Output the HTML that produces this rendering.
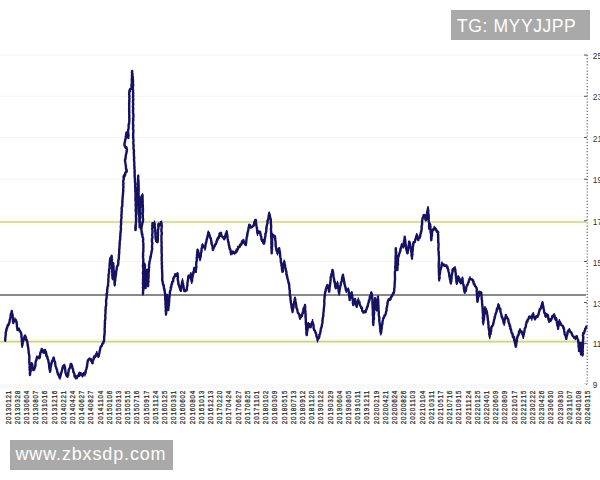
<!DOCTYPE html>
<html><head><meta charset="utf-8"><style>
html,body{margin:0;padding:0;background:#fff;}
body{width:600px;height:480px;overflow:hidden;position:relative;font-family:"Liberation Sans",sans-serif;}
svg{position:absolute;left:0;top:0;}
.box{position:absolute;background:#a9a9a9;color:#fff;white-space:nowrap;}
</style></head><body>
<svg width="600" height="480" viewBox="0 0 600 480">
<defs><linearGradient id="glow" x1="0" y1="0" x2="0" y2="1"><stop offset="0" stop-color="#fafce0" stop-opacity="0"/><stop offset="0.5" stop-color="#fafce0" stop-opacity="1"/><stop offset="1" stop-color="#fafce0" stop-opacity="0"/></linearGradient></defs>
<g><line x1="0" y1="55.0" x2="586" y2="55.0" stroke="#f3f3f3" stroke-width="1"/>
<line x1="0" y1="96.3" x2="586" y2="96.3" stroke="#f3f3f3" stroke-width="1"/>
<line x1="0" y1="137.5" x2="586" y2="137.5" stroke="#f3f3f3" stroke-width="1"/>
<line x1="0" y1="179.2" x2="586" y2="179.2" stroke="#f3f3f3" stroke-width="1"/>
<line x1="0" y1="261.5" x2="586" y2="261.5" stroke="#f3f3f3" stroke-width="1"/></g>
<rect x="0" y="216" width="586" height="11.5" fill="url(#glow)"/>
<line x1="0" y1="222" x2="586" y2="222" stroke="#d2cf9e" stroke-width="1.7"/>
<line x1="0" y1="295" x2="586" y2="295" stroke="#888" stroke-width="2"/>
<rect x="0" y="335.8" width="586" height="11.5" fill="url(#glow)"/>
<line x1="0" y1="341.6" x2="586" y2="341.6" stroke="#cdcf9f" stroke-width="1.7"/>
<line x1="587.2" y1="55" x2="587.2" y2="384" stroke="#555" stroke-width="1.1" stroke-dasharray="1.2,1.9"/>
<g><line x1="584" y1="55.0" x2="587" y2="55.0" stroke="#555" stroke-width="1"/>
<line x1="584" y1="96.3" x2="587" y2="96.3" stroke="#555" stroke-width="1"/>
<line x1="584" y1="137.5" x2="587" y2="137.5" stroke="#555" stroke-width="1"/>
<line x1="584" y1="179.2" x2="587" y2="179.2" stroke="#555" stroke-width="1"/>
<line x1="584" y1="220.8" x2="587" y2="220.8" stroke="#555" stroke-width="1"/>
<line x1="584" y1="261.5" x2="587" y2="261.5" stroke="#555" stroke-width="1"/>
<line x1="584" y1="302.5" x2="587" y2="302.5" stroke="#555" stroke-width="1"/>
<line x1="584" y1="343.3" x2="587" y2="343.3" stroke="#555" stroke-width="1"/>
<line x1="584" y1="384.3" x2="587" y2="384.3" stroke="#555" stroke-width="1"/></g>
<g font-family="Liberation Sans" font-size="8.4" fill="#333"><text x="592.8" y="59.0">25</text>
<text x="592.8" y="100.3">23</text>
<text x="592.8" y="141.5">21</text>
<text x="592.8" y="183.2">19</text>
<text x="592.8" y="224.8">17</text>
<text x="592.8" y="265.5">15</text>
<text x="592.8" y="306.5">13</text>
<text x="592.8" y="347.3">11</text>
<text x="592.8" y="388.3">9</text></g>
<path d="M5.3 339.3V342.0M6.0 329.3V332.9M7.8 323.7V326.5M9.6 321.2V323.0M10.7 314.7V318.4M11.8 310.8V311.8M12.8 316.5V318.8M13.3 321.2V323.1M15.0 317.4V322.5M16.7 321.3V324.6M19.0 327.6V329.2M20.8 332.0V333.1M21.7 337.9V339.2M22.2 344.7V348.0M23.3 338.7V341.7M25.0 334.5V337.5M26.7 338.8V340.7M27.5 340.7V345.9M29.2 352.8V356.8M30.0 374.2V375.6M31.7 362.5V363.5M33.3 368.0V371.0M35.0 364.8V368.0M36.7 355.5V360.2M39.2 355.6V359.2M40.5 351.0V354.5M41.7 348.8V350.6M43.3 350.5V353.2M45.0 349.8V350.9M46.7 353.3V357.8M48.3 359.7V360.6M51.7 360.4V363.0M52.7 358.5V361.2M53.7 357.0V359.4M54.8 361.8V363.8M55.8 366.4V367.8M57.5 371.9V373.2M58.8 372.5V377.1M60.0 376.7V379.8M61.2 372.0V373.5M62.5 365.3V369.2M64.2 364.7V367.6M65.8 372.7V374.0M67.5 374.7V377.6M69.2 368.2V369.2M70.2 366.3V368.0M71.3 363.4V365.6M72.3 366.9V369.0M73.3 369.2V373.0M74.5 373.5V377.3M75.8 377.8V378.7M77.0 374.7V379.2M78.3 375.2V376.3M79.5 372.6V377.0M80.8 372.8V375.8M82.5 373.5V377.4M83.8 373.8V375.2M85.0 373.9V376.5M86.7 366.9V369.3M88.3 359.3V362.1M89.5 357.9V360.3M90.8 358.5V360.9M92.5 363.1V363.9M94.2 355.2V358.9M95.5 353.4V355.7M96.7 350.9V353.8M98.3 356.7V357.4M100.0 348.8V350.2M101.7 345.3V346.8M103.3 341.8V343.6M104.2 338.1V341.3M105.0 320.8V325.0M105.5 308.2V311.5M108.3 281.7V284.1M110.0 258.2V262.5M111.7 255.7V257.5M112.5 277.0V280.2M113.3 262.5V265.9M114.7 284.8V286.4M115.8 273.1V277.3M116.7 266.4V270.1M118.3 261.2V265.7M119.2 250.8V253.5M120.0 237.7V242.3M120.8 228.9V232.1M121.7 207.8V211.5M123.0 193.4V196.0M123.7 174.5V177.6M124.7 174.3V176.2M125.7 170.5V175.4M126.7 169.7V172.6M125.0 158.1V161.5M126.0 153.9V157.2M127.0 149.8V152.0M125.8 147.4V149.1M124.5 143.7V145.6M126.4 131.2V134.3M127.4 133.9V137.9M128.4 137.3V138.0M128.2 129.2V131.8M129.3 120.5V121.4M129.3 89.6V93.7M130.4 88.9V92.3M131.5 87.1V89.7M132.2 70.5V72.1M133.0 77.9V82.4M133.2 97.7V101.0M133.2 136.5V138.8M134.0 153.6V155.3M134.7 173.8V178.2M135.2 184.2V188.5M136.0 214.3V215.4M135.5 228.8V230.7M137.0 199.4V201.1M138.3 174.4V177.3M139.0 209.2V212.2M139.6 224.4V228.2M141.5 195.2V197.6M142.5 193.2V196.5M143.0 220.2V223.1M141.0 227.8V229.1M142.1 232.3V235.1M143.2 253.4V256.2M143.0 292.1V295.4M144.7 262.5V267.1M145.5 286.2V288.5M147.0 268.8V270.5M148.0 286.0V287.2M149.1 262.7V265.1M150.6 256.6V258.2M152.0 248.2V251.4M152.5 221.9V225.5M153.5 222.2V225.3M154.5 220.6V223.2M156.0 237.6V241.9M157.5 241.7V243.2M158.5 222.4V226.4M159.5 222.7V225.1M160.5 221.0V225.4M161.5 220.5V224.2M161.7 248.3V250.5M162.2 277.1V281.1M163.2 282.2V285.8M164.2 288.2V291.1M165.2 291.2V296.2M165.9 312.6V316.1M167.0 294.2V297.4M168.3 307.8V310.9M170.0 291.5V292.8M171.2 285.3V288.7M172.5 280.4V281.8M173.8 276.2V278.5M175.0 272.9V275.4M176.2 273.3V276.2M177.5 272.9V273.7M178.3 282.0V285.2M179.6 284.9V288.8M180.8 288.3V292.1M182.5 278.3V281.0M184.2 290.2V292.2M185.4 289.6V292.3M186.7 288.3V291.4M188.3 274.5V278.2M189.6 274.6V276.4M190.8 272.0V276.5M191.7 281.2V283.9M192.9 272.5V276.4M194.2 266.8V268.8M195.8 270.3V273.0M197.5 248.4V250.1M198.8 252.1V255.9M200.0 258.2V261.3M201.2 250.6V253.4M202.5 243.2V245.2M203.8 245.2V247.7M205.0 245.8V250.7M206.1 242.3V244.3M207.2 237.4V238.9M208.3 230.4V234.8M209.6 234.2V236.2M210.8 237.8V239.9M211.9 241.7V244.5M213.0 248.0V250.1M214.4 246.6V247.7M215.8 242.4V245.0M216.9 240.6V243.1M217.9 238.5V240.7M218.9 235.7V237.4M220.0 232.6V233.8M221.2 233.6V236.1M222.5 235.7V237.8M224.2 237.8V239.6M225.4 234.9V237.1M226.7 230.0V233.1M228.3 239.5V243.3M229.6 245.3V248.1M230.8 251.4V255.4M232.1 250.2V253.3M233.3 250.9V254.1M234.6 251.5V254.7M235.8 250.2V252.8M237.1 249.0V251.5M238.3 246.0V247.0M239.6 243.7V246.9M240.8 242.9V245.3M242.1 241.5V244.3M244.6 240.7V244.9M245.8 242.5V245.3M247.5 232.0V235.3M249.2 223.7V226.8M250.8 227.0V227.7M253.3 224.4V227.1M254.6 221.4V223.3M255.8 219.5V220.5M257.5 231.1V235.9M258.8 230.1V232.7M260.0 231.5V234.2M261.7 238.8V242.0M262.9 240.8V242.9M264.2 242.0V244.4M265.4 233.4V235.0M266.7 224.9V228.9M267.9 219.5V221.2M269.2 211.4V214.4M270.8 219.5V220.4M271.7 252.0V253.3M272.5 232.7V237.1M273.8 234.0V238.1M275.0 235.1V237.8M275.8 245.1V248.0M277.5 250.7V255.4M279.2 247.6V250.7M280.8 258.1V262.0M282.5 269.6V272.8M284.2 259.4V264.0M285.8 268.2V272.0M287.5 276.3V279.4M289.2 283.1V285.2M290.0 294.1V296.2M290.8 301.7V302.6M292.5 310.0V313.3M293.8 304.4V307.5M295.0 296.6V299.2M296.7 306.6V309.8M298.3 311.9V314.3M300.0 315.7V320.0M301.2 314.0V317.8M302.5 310.8V313.4M303.8 307.5V311.1M305.0 304.3V306.0M305.8 319.9V320.5M306.7 334.0V335.3M308.3 322.6V325.7M309.6 323.6V326.3M310.8 324.2V328.2M312.5 319.1V323.4M314.2 327.9V330.2M315.8 331.7V335.3M317.5 339.9V342.4M318.8 336.6V338.2M320.0 333.6V335.3M321.2 326.4V328.2M322.5 319.5V323.1M324.0 306.6V309.6M325.0 291.0V292.7M326.2 286.8V290.0M327.5 284.3V286.9M329.2 290.9V291.7M330.8 276.1V276.8M332.5 269.6V272.0M334.2 279.0V282.3M335.8 286.4V288.4M337.5 280.7V285.8M339.2 293.1V295.7M340.8 283.1V285.4M341.9 277.1V280.2M343.0 273.6V277.4M344.7 282.3V285.4M346.3 288.3V292.9M347.3 288.4V290.3M348.3 287.6V290.4M349.7 299.5V300.1M350.7 294.9V296.6M351.7 291.3V294.2M353.3 303.8V305.7M355.0 297.7V300.3M356.7 304.7V308.1M358.3 297.4V302.5M359.6 301.4V304.0M360.8 306.4V309.0M362.1 307.6V311.2M363.3 311.6V313.2M364.6 310.3V313.6M365.8 310.2V313.3M367.1 305.5V308.0M368.3 302.7V305.8M369.6 296.8V301.4M371.3 291.8V293.6M372.5 298.4V300.3M373.3 323.6V325.2M375.0 298.1V300.1M376.7 308.6V311.6M378.0 295.7V297.9M379.2 319.5V320.9M380.8 331.4V335.5M384.2 314.6V318.3M385.8 311.3V313.9M387.5 302.2V304.0M389.2 297.9V301.0M390.8 295.8V300.1M392.5 294.2V296.4M394.2 289.8V294.1M395.0 275.6V277.7M395.8 248.0V250.6M398.3 255.2V258.0M400.0 249.9V252.5M401.7 243.0V245.2M403.3 246.1V248.4M404.7 236.5V237.5M405.8 244.8V248.5M407.5 252.6V253.7M409.2 240.8V243.6M410.8 247.3V248.6M412.0 256.5V259.8M413.3 240.9V245.7M415.0 239.3V242.8M416.7 232.9V235.8M418.3 239.2V241.0M420.0 234.3V239.0M421.7 227.7V229.2M422.5 217.3V219.2M424.2 214.0V216.0M425.8 219.5V221.5M426.9 212.1V215.6M428.0 206.1V209.8M429.2 227.8V230.3M430.3 222.7V225.7M431.3 239.9V241.3M432.5 228.6V231.5M434.2 225.8V230.0M436.0 227.9V230.2M437.0 229.4V232.9M438.7 253.1V257.3M439.2 279.8V281.6M440.3 269.6V271.9M442.0 261.6V263.9M443.1 263.6V266.1M444.2 263.6V267.0M445.4 264.8V266.7M446.7 264.2V268.4M448.3 268.7V271.4M449.6 274.8V278.5M450.8 280.9V284.4M452.5 267.9V271.7M453.8 266.9V271.2M455.0 266.1V270.6M456.7 280.8V285.0M458.3 275.3V278.5M459.6 277.9V281.1M460.8 282.2V283.7M462.5 276.4V280.9M463.6 284.4V285.8M464.7 292.0V293.6M466.1 288.0V291.3M467.5 284.8V285.8M468.8 281.4V283.3M470.0 276.3V278.8M471.2 279.0V280.3M472.5 278.5V282.4M475.0 285.5V286.6M476.7 287.7V290.2M477.5 300.2V302.3M479.2 291.2V292.4M480.2 291.7V294.1M481.3 291.7V293.9M482.5 304.6V307.9M483.3 322.6V325.6M485.0 305.9V309.2M486.7 310.3V314.2M488.3 322.0V323.9M489.7 336.6V339.2M490.7 329.6V332.7M491.7 325.3V328.0M493.3 322.6V325.9M494.6 316.6V318.9M495.8 313.3V314.5M497.1 308.2V311.2M498.3 303.1V306.6M500.0 307.9V308.7M501.7 315.9V317.4M502.9 317.7V321.3M504.2 321.6V325.9M505.8 314.3V316.4M507.5 317.9V320.3M509.2 323.3V325.4M510.4 326.1V330.4M511.7 333.1V334.0M512.7 333.1V335.3M513.7 335.5V337.9M514.8 339.2V343.2M515.8 344.5V347.5M517.5 334.6V337.8M518.8 331.0V333.6M520.0 327.9V330.5M521.7 330.3V333.1M523.3 336.3V338.9M525.0 327.5V329.1M526.2 324.0V324.9M527.5 318.8V321.9M529.2 315.8V318.5M530.5 317.2V318.5M531.7 317.1V320.8M533.3 312.0V315.9M535.0 319.2V320.2M536.2 316.1V318.6M537.5 315.2V317.9M539.2 311.7V314.3M540.8 306.2V308.8M542.5 300.9V303.3M544.2 310.7V313.1M545.8 315.9V317.6M547.5 314.0V316.7M549.2 321.0V322.2M550.5 318.1V320.9M551.7 315.8V319.8M553.0 314.8V317.5M554.2 312.9V315.2M555.8 319.6V320.2M556.3 317.0V320.6M558.1 328.3V329.8M559.4 319.1V322.8M561.3 324.8V325.6M563.1 325.9V326.6M564.4 330.8V332.1M566.3 336.4V339.9M567.5 331.2V334.2M569.4 328.0V332.1M571.3 331.5V333.4M572.5 333.6V334.7M573.8 335.9V338.7M575.3 335.5V340.2M576.9 334.9V338.2M578.1 340.0V340.9M578.5 342.1V344.7M579.0 350.7V352.0M580.0 341.7V345.1M581.0 351.9V355.6M582.0 342.6V345.0M582.5 352.7V356.4M583.0 340.1V342.3M583.1 332.7V335.0M584.7 328.0V331.9" stroke="#161262" stroke-width="1.3" fill="none"/>
<polyline points="5.3,340.5 5.2,339.0 5.3,338.2 5.5,336.8 5.7,334.8 5.8,333.5 5.7,332.3 6.0,331.7 6.5,330.2 6.6,328.2 7.2,328.0 7.4,326.5 7.8,325.0 8.3,325.5 8.9,324.0 9.6,321.7 9.7,319.8 10.2,318.9 10.4,317.5 10.5,317.2 10.6,315.9 10.9,313.7 11.3,313.7 11.6,311.8 11.8,311.0 12.0,312.3 12.4,314.4 12.6,314.8 12.8,316.7 13.1,318.0 12.9,319.6 12.9,321.2 13.3,321.6 13.3,323.0 14.1,320.3 15.0,320.0 15.9,320.0 16.7,323.0 16.9,324.8 16.9,326.4 17.2,327.5 17.3,328.7 17.5,330.0 19.0,329.0 19.7,331.2 20.2,331.3 20.8,332.5 21.1,333.1 21.5,335.5 21.4,337.2 21.7,338.0 21.9,339.1 21.8,339.9 21.8,341.4 22.2,342.6 22.0,344.0 22.2,345.8 22.6,344.1 22.7,342.1 23.2,341.5 23.3,340.0 24.0,339.5 24.4,336.6 25.0,335.8 25.7,336.8 26.0,339.9 26.7,340.0 27.0,340.9 27.5,343.3 27.7,344.1 27.8,346.1 28.0,346.3 28.3,348.3 28.5,350.6 28.7,351.1 28.6,352.7 29.1,354.4 29.2,355.0 29.4,356.7 29.3,357.4 29.4,358.2 29.2,359.4 29.3,360.9 29.3,362.3 29.4,363.1 29.5,364.5 29.8,365.6 29.5,367.6 29.7,368.4 29.6,369.8 30.1,371.7 29.9,372.5 29.8,373.2 30.0,375.0 30.1,373.4 30.2,373.0 30.8,370.3 30.6,369.8 30.7,368.6 31.3,367.2 31.4,366.5 31.5,364.2 31.7,363.3 32.1,363.9 32.4,366.1 32.6,367.0 33.2,369.3 33.3,370.0 34.2,369.7 35.0,367.0 35.3,366.3 35.5,363.9 35.5,362.9 35.9,360.9 36.3,360.1 36.4,360.2 36.7,358.0 38.3,356.7 39.2,358.0 39.7,357.7 39.9,356.5 40.2,353.5 40.5,352.2 41.1,351.9 41.3,351.1 41.7,349.0 42.3,350.6 42.8,350.1 43.3,352.5 44.2,352.7 45.0,350.0 45.3,351.8 45.8,351.6 46.1,353.1 46.3,355.8 46.7,355.8 47.4,356.9 47.7,359.2 48.3,360.0 48.3,360.6 48.8,363.3 49.0,363.3 49.1,366.0 49.3,366.2 49.2,367.1 49.7,369.9 50.0,370.4 50.0,371.7 50.4,370.3 50.4,369.7 50.6,367.3 51.0,365.9 51.2,364.7 51.6,363.1 51.7,362.5 52.2,360.8 52.8,360.2 53.3,358.5 53.7,357.5 54.0,358.8 54.1,360.2 54.5,361.3 55.0,361.7 55.2,363.4 55.5,365.9 55.8,366.7 56.1,367.4 56.6,369.2 56.8,369.2 57.1,370.7 57.5,372.5 58.1,374.6 58.8,375.2 59.4,377.5 60.0,377.5 60.3,376.5 60.7,375.0 61.0,373.6 61.4,372.5 61.7,371.7 61.8,371.0 62.4,368.9 62.5,367.5 63.3,367.5 64.2,365.0 64.4,365.4 64.6,366.5 65.0,367.7 65.3,370.3 65.4,370.2 65.4,372.4 65.8,373.3 66.5,375.6 67.1,374.7 67.5,376.7 67.8,375.2 68.2,375.2 68.3,372.1 68.6,371.6 68.8,369.6 69.2,369.0 69.6,368.4 70.2,366.7 70.7,363.9 71.3,364.0 71.6,365.6 72.1,365.6 72.5,368.5 72.5,368.2 73.1,369.4 73.3,371.7 73.7,372.4 74.4,374.1 74.7,376.5 75.4,376.0 75.8,378.3 77.1,377.4 78.3,375.8 79.5,372.8 80.8,373.3 81.6,375.2 82.5,375.8 83.8,372.9 85.0,374.0 85.5,373.0 85.8,370.5 86.2,369.1 86.3,368.7 86.7,367.5 87.1,366.4 87.1,364.5 87.4,363.8 87.6,361.7 87.9,360.3 88.3,360.0 89.5,358.5 90.8,359.0 91.3,361.2 91.8,361.9 92.5,363.3 92.7,361.6 93.0,360.1 93.5,359.9 93.9,357.3 94.2,356.7 95.0,357.2 95.9,355.6 96.7,353.3 97.3,354.4 97.8,355.2 98.3,356.7 98.8,355.8 99.1,353.7 99.4,353.1 99.6,351.1 100.0,350.0 100.5,347.4 101.2,346.0 101.7,345.8 102.4,343.7 103.3,343.3 103.7,341.0 104.0,341.2 104.2,339.0 104.1,337.5 104.3,336.3 104.4,334.9 104.7,333.9 104.5,333.6 104.8,331.4 104.6,330.3 104.6,328.7 104.8,328.1 104.8,326.5 104.8,325.0 104.9,324.0 105.0,323.3 104.8,321.5 105.0,320.6 105.2,319.8 105.3,318.8 105.4,317.5 105.2,315.9 105.1,315.5 105.4,313.9 105.6,311.8 105.5,311.7 105.5,310.0 105.7,309.1 105.7,307.0 106.0,306.3 106.1,305.5 106.2,303.9 106.2,302.8 106.0,300.9 106.2,299.5 106.6,298.2 106.6,297.6 106.7,296.4 106.7,295.0 106.6,293.8 107.1,293.1 107.2,291.4 107.1,290.4 107.3,289.3 107.5,287.0 107.6,286.9 108.1,285.7 108.0,284.1 108.2,282.9 108.3,281.7 108.4,280.9 108.3,279.5 108.5,277.6 108.6,277.2 108.5,275.8 108.8,273.8 109.0,273.5 109.0,272.3 109.1,270.9 109.1,269.6 109.2,269.0 109.6,267.9 109.5,265.3 109.8,265.3 109.6,263.5 110.0,262.0 109.9,260.8 110.0,260.0 110.6,257.6 111.0,258.5 111.7,255.8 111.7,257.5 111.9,258.8 112.0,259.2 111.6,260.8 111.9,261.4 111.9,263.2 111.9,264.1 112.2,265.6 112.2,266.4 112.0,268.7 112.3,270.1 112.1,271.3 112.2,271.9 112.4,273.9 112.3,274.4 112.2,275.5 112.6,276.5 112.5,278.3 112.8,276.8 112.5,275.5 112.6,274.6 113.0,273.1 113.0,272.6 113.1,271.0 113.0,270.1 112.8,268.6 113.1,267.4 113.2,266.1 113.0,264.3 113.3,263.3 113.2,265.1 113.4,265.7 113.6,266.6 113.5,268.8 113.6,269.5 113.7,270.6 113.7,271.3 114.1,272.5 113.9,274.1 114.3,275.9 114.0,276.5 114.0,277.3 114.1,278.7 114.3,279.8 114.6,281.5 114.5,282.9 114.6,283.7 114.7,285.0 114.8,283.6 114.9,281.8 114.9,282.0 115.3,280.0 115.3,279.3 115.4,277.1 115.6,276.1 115.8,275.0 116.1,274.4 116.0,273.0 116.4,270.2 116.5,270.3 116.7,268.3 116.9,267.3 117.6,265.5 118.0,265.4 118.3,263.3 118.3,262.7 118.3,260.1 118.7,259.5 118.8,258.8 118.9,257.1 118.9,255.5 119.1,253.6 119.3,252.6 119.2,251.7 119.2,250.6 119.3,248.6 119.6,248.0 119.4,245.9 119.7,245.2 119.6,243.7 119.6,242.7 119.9,241.0 120.0,240.0 120.2,239.4 120.2,238.1 120.2,235.9 120.5,235.7 120.3,233.5 120.7,232.5 120.6,231.1 120.8,230.0 121.1,229.0 120.7,227.1 120.9,226.0 120.9,225.2 121.2,224.1 121.0,222.5 121.1,221.9 121.1,220.4 121.4,218.4 121.6,217.2 121.3,216.2 121.4,214.6 121.7,214.0 121.5,212.0 121.9,210.9 121.7,210.0 121.6,208.2 121.9,206.8 122.2,206.8 122.4,205.4 122.2,204.4 122.5,202.0 122.2,201.6 122.5,200.2 122.6,198.6 122.6,197.0 122.8,195.9 123.0,195.0 122.9,194.3 123.0,193.1 123.3,191.0 123.2,190.3 123.2,188.1 123.5,187.2 123.3,185.7 123.1,185.4 123.6,183.5 123.2,182.7 123.3,180.5 123.4,180.3 123.8,178.9 123.5,177.1 123.7,176.0 124.5,176.6 125.2,172.9 125.9,172.0 126.7,171.6 126.6,169.4 126.4,169.8 125.9,168.5 125.9,166.0 125.9,166.0 125.5,163.7 125.4,162.5 125.1,162.0 125.0,160.0 125.3,159.4 125.6,158.1 125.7,156.5 125.9,154.6 126.1,154.3 126.6,151.9 126.6,150.7 127.0,150.0 126.4,147.3 125.9,147.0 125.3,147.4 124.5,145.0 124.5,143.4 124.9,141.9 125.0,141.8 125.2,139.7 125.5,139.2 125.8,138.3 125.7,136.9 125.9,136.0 126.2,134.3 126.4,133.0 126.8,134.9 127.3,134.8 128.0,135.8 128.4,138.0 128.3,136.8 128.6,135.2 128.2,134.0 128.3,133.0 128.0,131.9 128.2,130.0 128.5,128.7 128.7,128.0 128.6,125.4 128.7,124.2 129.0,124.4 129.1,123.0 129.3,121.0 129.3,120.2 129.4,118.3 129.1,117.9 129.4,116.3 129.2,114.6 129.2,113.3 129.3,112.3 129.2,111.5 129.2,109.6 129.1,109.1 129.2,107.5 129.3,106.8 129.1,104.8 129.3,104.0 129.1,103.0 129.4,101.3 129.2,100.4 129.5,99.0 129.3,97.8 129.3,96.7 129.5,96.0 129.1,94.3 129.2,93.5 129.3,92.0 130.1,89.0 130.8,89.1 131.5,88.0 131.7,86.7 131.4,85.5 131.7,83.7 131.9,83.3 131.8,81.4 131.8,80.5 131.7,79.0 132.1,78.3 131.9,76.6 132.2,76.3 131.9,74.2 132.3,74.0 131.9,72.2 132.2,71.0 132.3,72.9 132.5,74.2 132.4,75.3 132.5,76.6 132.9,77.3 132.7,79.2 133.0,80.0 133.0,80.9 133.0,82.5 132.9,83.3 133.2,85.3 133.1,85.7 132.8,87.8 132.9,89.1 133.1,90.1 133.0,91.4 133.2,92.4 133.2,93.7 133.1,94.9 133.2,95.7 133.0,97.5 133.3,99.1 133.2,100.0 133.0,101.2 133.0,102.4 133.2,103.3 133.2,104.4 133.0,106.1 133.0,107.5 133.3,108.8 133.0,109.8 133.1,111.0 133.0,112.8 133.4,113.9 133.4,115.0 133.4,115.6 133.4,117.2 133.0,118.9 133.4,119.9 133.1,120.4 133.0,122.4 133.1,123.7 133.0,124.9 133.4,125.7 133.1,126.6 133.1,128.2 133.0,128.9 133.4,130.3 133.4,132.1 133.3,132.7 133.2,133.9 133.1,135.7 133.2,137.2 133.2,138.0 133.4,139.3 133.6,139.9 133.3,141.9 133.3,143.3 133.5,144.8 133.7,145.2 133.5,146.5 133.5,148.2 133.6,149.5 134.0,150.5 134.0,151.7 133.7,152.5 134.0,154.0 133.9,154.6 134.0,156.6 134.3,157.7 134.0,158.4 134.0,160.3 134.2,160.7 134.2,162.1 134.4,163.4 134.2,165.1 134.4,166.4 134.6,167.0 134.3,168.3 134.6,169.4 134.7,171.6 134.5,172.2 134.7,172.9 134.6,174.9 134.7,176.0 134.7,177.4 134.9,179.1 135.1,179.4 135.0,180.4 134.9,182.1 135.2,182.9 135.2,184.1 135.2,186.0 135.1,187.8 135.3,188.0 135.4,189.6 135.2,191.2 135.3,191.8 135.6,192.7 135.5,194.8 135.6,195.1 135.5,197.2 135.5,198.4 135.4,199.0 135.4,200.2 135.8,201.5 135.8,203.2 135.6,204.4 135.7,205.4 135.8,206.9 135.9,207.5 135.7,209.5 135.6,210.6 135.8,211.1 136.1,212.9 135.9,214.1 136.0,215.0 135.9,216.7 136.1,217.2 136.0,218.9 136.1,220.2 136.0,221.2 135.9,222.8 135.8,223.7 135.6,225.1 135.7,225.9 135.8,227.0 135.3,228.3 135.5,230.0 135.8,228.3 135.4,227.4 135.5,225.8 135.8,225.5 135.9,224.3 135.9,222.2 136.1,221.4 136.2,220.8 136.2,218.6 136.3,218.6 136.0,216.3 136.0,215.1 136.4,214.9 136.5,213.4 136.3,212.2 136.3,210.3 136.4,209.9 136.5,208.2 136.5,206.6 136.8,205.7 136.7,204.6 136.8,204.2 136.9,202.9 136.9,200.6 137.0,200.0 137.2,198.7 137.2,197.4 137.1,196.5 137.1,195.7 137.2,194.4 137.2,192.1 137.7,192.0 137.5,189.7 137.7,189.2 137.6,187.6 137.9,186.6 138.0,185.3 137.7,184.1 137.9,183.5 138.0,181.5 138.2,180.2 138.2,179.9 138.1,178.6 138.2,177.1 138.3,176.0 138.1,177.7 138.1,178.9 138.3,179.3 138.4,181.3 138.6,181.9 138.4,183.0 138.6,184.5 138.6,186.0 138.4,186.7 138.7,187.7 138.7,189.6 138.6,190.2 138.7,192.1 138.6,192.5 138.5,194.7 138.6,195.1 138.9,196.9 138.6,197.4 138.7,198.8 138.6,200.3 138.7,201.3 139.0,203.3 139.1,203.4 138.8,204.7 139.1,206.9 138.9,207.9 139.0,208.4 139.0,210.0 138.9,210.7 138.9,212.3 139.3,213.5 139.2,215.1 139.2,216.2 139.3,216.8 139.4,218.4 139.3,220.2 139.5,221.0 139.3,222.0 139.7,223.6 139.6,224.9 139.6,226.2 139.6,227.0 139.6,226.0 139.7,224.3 139.7,222.8 139.9,222.4 139.7,221.0 139.8,219.5 139.8,218.6 140.1,217.4 140.0,215.6 140.0,215.1 140.3,213.5 140.1,211.7 140.3,210.6 140.2,210.4 140.2,208.1 140.4,207.4 140.4,206.2 140.3,205.3 140.6,203.6 140.5,202.1 140.6,201.1 140.5,200.0 141.2,197.7 141.4,197.1 142.0,195.6 142.5,195.0 142.5,195.7 142.6,197.4 142.5,198.5 142.7,199.6 142.6,201.7 142.8,202.1 142.5,203.5 142.8,204.5 142.8,206.5 142.8,207.3 143.0,208.3 142.9,209.7 143.0,211.5 142.7,212.3 142.7,213.6 142.8,215.2 142.8,216.5 142.8,217.1 142.8,218.4 143.1,219.2 143.0,221.0 142.6,221.9 142.3,223.2 142.1,224.8 141.6,226.7 141.5,228.6 141.0,229.0 141.4,229.3 141.6,232.3 141.9,231.9 141.8,234.2 142.4,234.1 142.4,236.6 142.6,236.8 143.1,238.2 143.2,240.0 143.0,241.1 143.3,243.0 143.4,243.4 143.3,245.1 143.4,246.4 143.4,247.8 143.3,248.4 143.3,250.0 143.4,251.2 143.1,252.6 143.0,253.5 143.2,255.0 143.0,256.2 143.0,257.4 143.2,258.6 143.4,259.9 143.3,260.5 143.2,262.2 143.3,263.7 143.1,264.5 142.9,266.4 143.2,267.3 143.2,267.8 143.3,269.7 143.4,270.5 143.1,271.9 142.9,273.6 143.2,274.6 143.3,275.4 143.1,276.6 143.2,278.0 143.0,278.9 143.1,280.3 143.0,282.0 143.0,283.2 142.9,284.0 143.3,285.2 143.2,286.6 142.9,287.5 143.1,288.6 143.2,290.2 143.1,290.8 143.0,292.9 143.0,293.7 143.0,291.9 143.0,290.6 143.3,290.6 143.4,289.1 143.4,288.2 143.5,286.6 143.5,285.5 143.4,284.2 143.6,283.0 143.5,281.9 143.6,279.9 144.0,279.5 143.9,278.2 144.1,277.2 143.9,275.6 144.1,274.0 144.2,272.8 144.5,272.1 144.4,270.0 144.2,268.8 144.5,268.7 144.5,267.6 144.6,265.1 144.7,264.6 145.0,265.9 144.8,267.7 144.6,268.2 144.7,269.7 144.7,270.3 145.0,271.4 145.2,272.7 145.2,273.9 144.8,275.2 145.0,277.2 145.0,278.4 145.3,278.8 145.4,280.9 145.1,282.1 145.4,283.2 145.6,284.3 145.6,285.2 145.2,287.0 145.5,288.0 145.7,286.1 145.5,286.1 145.9,284.1 146.1,282.7 145.8,282.0 146.1,280.6 146.3,279.5 146.4,277.9 146.5,277.0 146.5,276.2 146.7,274.6 146.8,274.3 146.7,272.5 147.1,270.5 147.0,270.0 147.2,271.5 147.2,272.2 147.4,274.4 147.2,275.1 147.6,276.1 147.5,277.2 147.7,278.8 147.5,280.3 147.6,280.4 147.8,282.2 148.0,284.0 148.1,284.1 148.0,286.0 148.2,285.2 148.0,283.6 148.3,282.7 148.5,281.2 148.1,279.5 148.5,278.5 148.6,276.8 148.4,276.5 148.7,274.8 148.5,273.4 148.8,271.8 148.8,271.3 149.0,269.1 148.8,268.7 149.2,267.2 149.0,266.4 149.1,264.6 149.4,263.3 149.5,261.5 149.9,260.3 150.1,259.5 150.3,258.3 150.4,256.6 150.7,257.1 151.1,254.1 151.1,254.2 151.5,252.6 151.6,251.3 152.0,250.0 152.3,248.2 152.0,248.0 152.0,246.5 152.1,245.5 152.2,244.5 152.4,243.2 151.9,241.3 152.0,240.0 152.0,238.7 152.4,238.0 152.5,236.7 152.1,236.0 152.2,234.5 152.5,232.7 152.4,231.6 152.6,230.9 152.3,229.7 152.2,228.3 152.7,227.7 152.2,225.6 152.4,224.4 152.5,223.5 154.5,223.0 154.8,224.8 154.5,225.9 154.9,227.1 155.1,228.1 154.9,228.4 155.3,230.7 155.2,231.8 155.5,232.9 155.4,233.3 155.4,234.8 155.5,236.3 155.6,237.2 155.7,239.1 156.0,240.0 156.7,241.8 157.5,242.0 157.8,240.2 157.8,239.2 157.9,238.9 157.7,236.7 158.0,235.4 158.0,235.3 157.9,233.5 158.0,232.8 157.9,231.4 158.0,229.6 158.3,229.1 158.5,227.1 158.3,226.1 158.3,224.7 158.5,224.0 160.0,225.3 161.5,223.0 161.5,223.8 161.7,225.2 161.8,226.2 161.7,227.4 161.4,229.3 161.4,230.3 161.4,231.3 161.8,232.7 161.8,234.6 161.5,234.8 161.4,237.0 161.5,238.0 161.4,239.5 161.5,240.5 161.4,241.0 161.7,243.0 161.6,243.5 161.5,245.6 161.5,246.4 161.8,247.2 161.5,249.0 161.7,250.0 161.5,250.7 161.7,252.5 161.6,253.4 161.9,255.0 161.8,256.4 161.6,256.9 161.8,258.7 161.6,259.9 161.8,261.2 162.1,262.5 161.7,263.3 161.9,265.0 161.9,266.2 162.2,266.5 161.8,268.0 162.1,269.2 162.1,269.9 162.1,271.7 162.2,272.5 162.3,274.5 162.2,275.2 162.3,276.4 162.4,277.3 162.2,279.0 162.4,281.1 162.7,281.5 162.8,282.8 163.1,284.8 163.3,284.5 163.8,285.8 163.8,286.6 164.1,289.2 164.5,289.1 164.7,291.4 164.8,292.9 165.2,293.7 165.3,295.4 165.1,295.7 165.3,297.5 165.2,298.5 165.2,299.9 165.6,301.4 165.5,302.1 165.4,304.2 165.8,305.5 165.6,306.2 165.7,308.1 165.9,308.8 165.7,310.5 165.7,311.1 166.1,312.6 165.9,314.0 166.2,313.2 166.2,311.9 166.1,309.6 166.4,309.6 166.2,307.3 166.3,306.6 166.2,305.2 166.5,303.8 166.4,301.9 166.8,302.0 166.8,300.7 167.0,299.2 166.6,298.1 166.8,296.5 167.0,295.0 167.0,296.5 167.4,297.6 167.2,298.9 167.4,300.0 167.4,301.9 167.7,302.2 167.8,303.2 167.9,305.7 168.0,305.9 167.9,307.6 168.0,308.2 168.3,310.0 168.4,308.5 168.4,307.2 168.7,305.7 168.8,305.6 168.9,304.0 169.1,302.2 169.1,301.4 169.2,300.4 169.2,298.7 169.4,297.4 169.6,296.4 169.6,294.6 169.7,294.7 169.9,293.0 170.0,291.7 170.5,290.0 170.7,288.7 170.8,287.2 171.2,287.5 171.5,284.5 172.0,284.1 172.1,282.1 172.5,281.7 173.1,281.6 173.4,278.1 174.1,277.3 174.6,276.7 175.0,275.0 176.3,275.7 177.5,273.3 177.7,274.9 177.7,276.2 177.9,277.5 177.7,278.9 177.8,280.1 178.1,281.2 178.4,282.0 178.3,283.3 178.7,284.7 179.3,286.5 179.5,287.3 180.0,288.2 180.3,290.1 180.8,290.8 181.0,289.3 181.2,288.1 181.6,287.6 181.6,285.8 181.8,284.0 182.1,282.6 182.1,282.2 182.5,280.8 182.6,282.8 183.1,283.9 183.0,285.4 183.5,285.7 183.4,286.1 183.8,288.4 184.1,290.3 184.2,290.8 185.5,290.6 186.7,290.0 186.9,288.8 186.9,287.9 187.2,286.1 187.5,284.9 187.4,284.2 187.5,282.1 187.7,281.4 188.0,280.4 188.0,279.9 188.2,277.8 188.3,276.7 189.5,277.6 190.8,274.2 191.1,275.5 191.0,276.2 191.4,278.7 191.2,279.2 191.6,281.1 191.7,281.7 192.1,281.1 192.1,280.0 192.3,277.4 192.6,276.8 192.7,275.0 193.1,274.6 193.5,272.9 193.3,272.2 193.9,270.6 194.1,269.1 194.2,268.3 194.7,267.9 195.3,271.6 195.8,271.7 195.8,270.7 196.0,269.3 196.2,267.7 196.4,266.9 196.2,265.8 196.2,263.9 196.3,263.6 196.4,261.5 196.8,260.9 196.9,259.8 196.6,257.8 196.9,257.6 197.0,256.3 197.0,254.3 197.4,253.0 197.2,252.5 197.4,251.1 197.5,250.0 198.0,250.3 198.4,252.8 198.6,253.8 198.8,254.7 199.4,257.6 199.8,257.5 200.0,259.2 200.1,258.6 200.6,257.0 200.8,255.6 200.8,254.0 200.9,253.7 201.4,251.7 201.6,250.9 201.5,249.2 201.7,248.3 202.0,248.3 202.1,246.3 202.5,245.0 203.3,246.2 204.1,246.8 205.0,248.3 205.4,246.3 205.4,245.6 205.7,244.0 205.8,242.9 206.2,242.6 206.6,240.3 206.7,239.0 206.9,239.3 207.4,237.2 207.4,236.8 207.9,234.6 208.2,233.5 208.3,232.5 208.9,232.8 209.2,234.8 209.7,235.8 210.2,237.7 210.8,238.3 211.1,240.4 211.2,240.6 211.4,242.4 211.6,244.2 212.0,244.8 212.4,245.7 212.6,247.2 212.7,248.8 213.0,250.0 213.4,248.5 214.2,246.7 214.7,246.0 215.3,244.2 215.8,244.2 216.3,242.6 216.6,241.2 217.1,240.1 217.7,238.3 218.1,237.6 218.7,238.1 219.2,236.8 219.5,233.5 220.0,233.3 220.9,232.7 221.6,236.2 222.5,236.7 223.4,237.6 224.2,239.2 224.5,238.5 225.0,237.6 225.3,235.8 226.0,233.2 226.4,233.5 226.7,231.7 226.7,232.1 227.0,233.6 227.2,235.1 227.4,235.9 227.6,238.2 227.9,239.8 228.0,240.8 228.3,241.7 228.7,242.9 228.7,244.0 229.2,246.3 229.2,246.4 229.7,248.9 229.9,248.5 230.4,249.9 230.7,251.4 230.8,253.3 232.0,253.7 233.3,251.7 234.5,253.1 235.8,252.5 236.4,252.1 236.7,249.5 237.3,250.3 237.9,249.1 238.3,246.7 239.6,247.0 240.8,245.0 241.4,244.2 242.1,241.1 242.7,241.0 243.3,240.0 243.8,242.6 244.4,243.3 245.3,244.4 245.8,245.0 246.0,243.3 246.2,243.2 246.3,241.2 246.5,239.0 246.6,238.3 246.8,236.9 247.2,236.3 247.2,234.1 247.5,233.3 247.7,232.1 247.9,231.8 248.4,229.3 248.5,227.8 248.8,227.0 249.1,226.3 249.2,225.0 250.0,225.1 250.8,227.5 252.0,227.1 253.3,225.8 253.9,225.4 254.2,222.4 254.7,221.9 255.2,219.9 255.8,220.0 256.0,220.7 255.9,222.3 256.2,223.3 256.3,224.6 256.4,225.3 256.8,228.1 257.0,227.8 257.1,230.5 257.2,230.2 257.2,232.0 257.5,233.3 258.7,232.7 260.0,231.7 260.3,233.7 260.7,234.3 260.6,235.6 260.8,235.9 261.3,236.7 261.4,239.5 261.7,240.0 262.6,239.9 263.5,243.5 264.2,243.3 264.5,241.4 264.7,241.3 264.6,239.2 264.9,238.8 265.2,236.7 265.5,235.4 265.4,233.9 265.8,233.2 266.0,232.4 266.3,231.3 266.3,229.2 266.4,227.4 266.7,226.7 266.8,225.6 267.0,224.6 267.6,222.9 267.4,221.0 267.7,220.5 267.9,219.8 268.4,218.8 268.5,217.5 268.8,215.3 268.9,214.5 269.2,213.3 269.5,214.3 270.0,216.3 270.0,218.2 270.5,218.2 270.8,220.0 270.8,221.3 270.7,222.1 270.9,223.5 271.1,225.5 271.2,226.6 271.1,228.0 270.8,229.0 271.1,230.1 271.1,230.8 271.1,232.9 271.1,233.7 271.4,234.6 271.1,235.4 271.2,237.5 271.4,238.0 271.4,239.6 271.4,240.9 271.3,242.3 271.3,243.0 271.5,245.2 271.7,245.4 271.3,246.8 271.4,248.4 271.6,249.6 271.7,250.5 271.7,251.6 271.7,253.3 271.6,252.2 271.6,250.7 272.0,249.6 272.0,248.5 271.8,247.5 272.1,246.6 272.2,244.2 272.0,243.4 272.2,242.9 272.1,241.5 272.1,240.2 272.3,238.3 272.4,236.8 272.4,235.8 272.5,235.0 273.7,236.9 275.0,236.7 275.2,238.5 275.2,239.7 275.5,241.1 275.5,241.2 275.6,242.7 275.7,244.5 275.6,244.9 275.8,246.7 276.3,248.6 276.3,249.8 276.7,250.9 277.3,252.1 277.5,253.3 278.1,251.1 278.3,251.2 278.8,248.8 279.2,248.3 279.4,250.2 279.3,250.2 279.9,251.5 279.9,253.0 280.2,254.4 280.1,255.9 280.5,258.0 280.8,259.0 280.8,260.0 280.8,262.1 281.0,262.3 281.5,263.9 281.4,265.7 281.9,265.9 281.9,268.1 282.0,269.1 282.3,271.0 282.5,271.7 282.8,271.1 282.9,268.4 283.3,267.4 283.2,266.9 283.5,264.8 283.8,264.1 283.9,262.7 284.2,261.7 284.5,261.9 284.5,263.7 285.1,265.2 285.0,265.5 285.3,268.0 285.6,268.4 285.8,270.0 286.1,270.7 286.5,272.4 286.3,274.6 286.9,274.9 287.1,276.7 287.3,277.4 287.5,278.3 287.8,279.3 288.3,281.6 288.6,283.3 289.0,283.2 289.2,285.0 289.3,286.6 289.3,287.7 289.5,288.8 289.5,289.4 289.9,291.0 289.7,292.5 289.8,293.4 290.0,295.0 290.0,296.1 290.5,296.9 290.5,298.9 290.6,300.5 290.8,301.7 290.8,302.3 291.1,303.8 291.5,305.9 291.6,307.5 291.9,308.7 291.9,308.4 292.5,310.6 292.5,311.7 292.8,310.2 293.1,309.1 293.2,307.2 293.3,307.6 293.4,305.1 293.8,303.7 294.0,303.6 294.2,301.8 294.7,300.9 294.6,299.8 295.0,298.3 295.4,300.0 295.2,301.0 295.8,302.6 295.7,303.0 296.1,304.0 296.3,306.5 296.4,307.8 296.7,308.3 297.2,309.1 297.5,311.2 297.8,312.5 298.3,313.3 298.7,313.4 299.2,314.6 299.6,316.6 300.0,318.3 300.6,317.4 301.1,315.7 301.9,315.9 302.5,313.3 302.7,313.3 303.3,311.2 303.4,309.3 303.8,307.7 304.1,308.0 304.6,306.9 305.0,305.0 305.1,306.3 305.2,307.6 305.1,308.9 305.2,310.3 305.5,311.5 305.3,312.9 305.7,314.1 305.4,314.9 305.8,316.3 305.4,317.0 305.8,318.7 305.8,320.0 305.8,321.6 305.8,323.2 305.8,324.1 305.9,324.3 306.2,325.6 306.1,327.6 306.3,329.4 306.2,329.5 306.7,331.6 306.3,332.0 306.5,334.1 306.7,335.0 306.9,334.5 307.0,332.6 307.2,331.6 307.6,329.5 307.7,327.8 307.8,326.4 308.1,325.7 308.1,323.8 308.3,323.3 309.2,324.1 310.0,327.2 310.8,326.7 311.1,324.7 311.6,323.6 312.0,322.3 312.5,321.7 312.8,323.4 313.2,323.7 313.3,324.7 313.6,325.7 313.6,328.4 314.1,329.3 314.2,330.0 314.7,330.4 315.4,332.2 315.8,333.3 316.2,333.9 316.5,336.2 317.0,337.5 317.3,338.0 317.5,340.0 318.1,338.4 318.4,338.6 319.2,337.4 319.4,334.6 320.0,334.0 320.4,332.0 320.7,330.6 320.8,329.7 320.9,328.4 321.1,328.4 321.7,326.5 321.9,326.0 321.8,325.4 322.4,322.7 322.5,322.0 322.4,321.0 322.7,319.5 322.7,318.1 323.3,316.1 323.4,315.3 323.3,313.8 323.4,312.5 323.7,311.3 323.8,310.0 323.7,309.3 324.0,308.0 324.1,306.6 324.1,306.1 324.4,303.9 324.4,303.6 324.2,301.5 324.3,300.3 324.5,298.7 324.6,298.0 324.5,296.7 324.8,296.0 324.9,294.5 325.1,293.5 325.0,292.0 325.5,291.8 325.8,289.4 326.4,288.3 326.6,287.0 327.0,285.9 327.5,285.0 327.7,287.4 328.3,287.9 328.6,288.5 328.8,290.1 329.2,291.7 329.2,290.0 329.6,289.7 329.4,288.6 329.7,287.0 329.9,285.7 330.2,283.9 330.2,282.2 330.3,282.3 330.6,280.6 330.6,278.8 330.6,278.3 330.8,276.7 331.1,275.8 331.5,274.1 331.8,273.1 332.2,271.6 332.5,270.0 332.8,270.7 333.1,272.1 333.2,273.7 333.3,275.0 333.4,275.7 333.8,278.3 334.0,278.8 334.2,280.0 334.3,281.8 334.8,281.7 334.9,283.5 335.3,285.4 335.2,286.7 335.7,286.9 335.8,288.3 336.1,287.9 336.6,284.9 337.0,283.5 337.5,283.3 337.7,285.1 337.8,285.7 338.3,286.9 338.3,288.7 338.7,289.5 338.6,291.3 338.9,292.4 339.2,293.3 339.3,292.0 339.6,290.5 339.7,289.2 340.1,287.5 340.2,286.0 340.5,285.9 340.8,284.2 341.0,282.5 341.3,282.3 341.9,280.6 342.0,278.3 342.4,278.3 342.5,276.0 343.0,275.0 343.2,276.2 343.4,278.0 343.8,278.8 343.9,280.9 344.2,281.3 344.3,283.7 344.7,284.2 345.1,286.5 345.4,286.6 345.5,287.8 345.9,290.0 346.3,290.8 347.3,290.1 348.3,289.2 348.6,291.1 348.7,290.8 348.8,292.7 348.9,294.6 349.2,295.2 349.2,296.3 349.5,297.6 349.6,299.1 349.7,300.0 349.9,298.5 350.4,297.9 350.8,296.9 350.9,294.1 351.5,292.8 351.7,292.5 351.7,293.1 352.0,295.4 352.3,295.5 352.3,297.9 352.6,298.0 352.7,299.9 353.0,302.1 352.8,303.1 353.1,303.5 353.3,305.0 353.8,302.7 353.9,302.1 354.2,301.1 354.7,301.2 355.0,299.2 355.3,300.5 355.5,300.8 356.0,303.7 356.0,305.0 356.2,304.8 356.7,306.7 357.0,305.4 357.3,303.9 357.6,302.9 357.9,302.0 358.3,300.0 358.8,302.5 359.2,301.5 359.8,304.1 360.2,305.5 360.8,306.7 361.4,307.2 361.9,308.4 362.3,311.1 362.9,311.2 363.3,312.5 364.6,311.8 365.8,311.7 366.1,309.4 366.4,309.6 366.7,309.0 367.1,307.1 367.6,306.7 367.9,305.2 368.3,303.3 368.7,302.5 368.9,300.4 369.2,300.6 369.6,299.6 369.9,296.4 370.6,296.9 370.8,295.0 371.1,293.6 371.3,292.5 371.7,293.3 371.6,295.3 372.0,295.4 372.2,296.7 372.2,298.4 372.5,300.0 372.5,301.4 372.4,302.6 372.5,304.3 372.5,305.4 372.9,306.6 372.5,307.4 372.8,308.6 372.8,309.7 372.8,310.7 372.9,312.8 372.8,314.0 372.8,315.4 373.3,316.8 373.1,318.1 373.0,318.5 373.1,320.3 373.0,321.8 373.4,322.5 373.3,323.9 373.3,325.0 373.2,323.2 373.6,322.3 373.4,321.8 373.4,320.7 373.9,319.1 374.0,317.5 373.6,316.7 373.9,315.1 374.1,313.7 374.2,312.4 373.9,311.4 374.0,310.5 374.4,309.3 374.4,308.1 374.5,306.1 374.6,305.0 374.7,303.9 374.6,302.9 374.6,302.2 375.1,300.3 375.1,299.3 375.0,298.3 375.2,300.3 375.2,300.3 375.4,302.9 375.8,303.5 375.9,304.1 376.1,305.5 376.3,307.4 376.5,308.2 376.7,310.0 376.6,308.3 377.1,307.2 377.2,306.4 377.4,304.4 377.4,303.9 377.5,302.9 377.6,301.1 377.5,299.8 377.7,298.4 377.8,297.9 378.0,296.7 377.9,298.5 378.0,299.3 378.3,300.5 378.0,301.9 378.4,302.5 378.2,304.7 378.5,305.4 378.4,306.9 378.6,308.2 378.4,309.5 378.7,310.8 378.6,311.3 378.9,312.3 378.7,314.1 378.8,314.9 378.9,315.9 379.3,317.3 379.3,319.4 379.2,320.0 379.3,321.2 379.7,322.9 379.7,324.0 379.8,324.3 380.1,326.6 380.2,326.6 380.1,328.2 380.4,330.4 380.3,331.3 380.8,332.6 380.8,333.3 381.1,332.7 381.3,331.3 381.3,329.6 381.7,328.7 381.7,327.5 381.9,326.4 382.0,325.1 382.4,323.8 382.5,321.7 383.0,319.8 383.2,318.5 383.7,317.8 384.2,316.7 384.9,315.5 385.3,315.0 385.8,313.3 386.1,311.8 386.3,311.3 386.6,310.4 386.5,308.1 387.0,307.3 387.1,305.5 387.4,305.2 387.5,303.3 388.1,300.6 388.5,299.6 389.2,300.0 390.0,299.9 390.8,297.5 391.6,296.6 392.5,295.0 393.0,293.4 393.7,292.3 394.2,291.7 394.2,290.6 394.2,288.6 394.4,288.2 394.6,286.9 394.6,284.9 394.8,283.6 394.6,282.5 394.7,282.3 395.0,280.1 395.1,279.3 394.9,277.8 395.0,276.7 395.0,276.0 394.9,274.8 394.9,273.4 394.9,271.8 395.4,270.1 395.4,269.2 395.2,267.7 395.3,266.3 395.3,266.0 395.6,264.2 395.5,263.6 395.5,261.4 395.7,260.6 395.6,259.2 395.5,258.3 395.6,257.0 395.6,256.2 395.9,254.3 395.8,252.7 395.7,252.2 395.9,250.7 395.9,250.0 395.8,248.3 395.7,249.9 395.8,250.5 396.3,252.6 396.2,252.6 396.1,254.4 396.5,255.4 396.4,256.9 396.5,258.3 396.6,259.2 396.8,261.1 396.9,262.0 397.1,262.6 397.1,264.3 397.0,264.9 397.4,266.5 397.2,268.0 397.4,268.3 397.5,270.0 397.4,269.3 397.5,267.9 397.5,266.1 397.7,264.9 398.1,264.6 397.8,262.3 397.9,262.2 398.1,260.1 398.0,258.6 398.2,257.8 398.3,256.7 398.6,256.6 399.3,253.4 399.7,252.8 400.0,251.7 400.4,250.7 400.5,248.6 401.0,248.3 401.4,246.5 401.7,245.0 403.3,246.7 403.4,245.9 403.8,244.0 403.7,243.0 403.9,241.9 404.0,240.9 404.4,239.8 404.7,237.7 404.7,236.7 404.7,237.6 405.0,238.5 405.2,240.9 405.4,241.6 405.3,242.3 405.7,244.4 405.7,245.7 405.8,246.7 406.1,248.6 406.6,250.3 406.8,250.3 407.1,252.7 407.5,253.3 407.8,251.5 407.9,250.8 408.2,249.7 408.2,247.5 408.4,246.1 408.8,245.6 408.9,244.6 409.0,242.8 409.2,241.7 409.7,242.5 410.0,245.0 410.2,244.9 410.5,247.5 410.8,248.3 411.1,250.2 411.2,251.2 411.4,252.3 411.5,252.7 411.6,254.9 411.5,255.4 412.0,257.2 412.0,258.3 412.0,256.7 412.0,255.4 412.5,254.8 412.4,253.8 412.3,252.4 412.6,251.3 412.8,248.8 412.8,247.8 413.0,246.4 413.2,245.9 413.3,243.9 413.3,243.3 415.0,241.7 415.2,239.5 415.6,239.3 416.0,237.3 416.5,235.7 416.7,235.0 417.2,235.5 417.5,238.3 418.0,237.6 418.3,240.0 418.9,237.4 419.3,237.6 420.0,236.7 420.3,235.8 420.4,234.5 420.8,233.1 421.1,231.4 421.3,231.7 421.4,230.4 421.7,228.3 421.6,227.8 421.7,225.8 422.1,224.5 422.1,223.6 422.1,221.8 422.2,220.7 422.5,219.1 422.5,218.3 423.1,217.3 423.7,215.1 424.2,215.0 424.5,215.5 425.1,217.6 425.5,219.9 425.8,220.0 426.2,219.6 426.4,217.8 426.4,215.2 426.9,213.9 427.1,213.9 427.2,211.7 427.6,210.2 427.7,210.6 428.0,208.3 427.9,208.9 428.3,210.6 428.2,212.5 428.1,212.7 428.5,214.1 428.7,215.8 428.7,217.6 428.8,218.3 428.5,219.0 428.8,220.9 428.7,221.6 429.1,222.6 429.2,224.8 429.0,226.5 429.1,227.4 429.2,228.3 429.9,227.4 430.3,225.0 430.2,225.7 430.5,227.1 430.3,228.6 430.8,230.5 430.5,231.2 430.8,233.1 430.8,233.1 431.1,235.2 431.1,236.2 431.0,237.1 431.2,239.3 431.3,240.0 431.5,238.1 431.5,236.9 431.8,236.2 432.0,235.2 431.9,233.7 432.0,232.9 432.3,231.2 432.5,230.0 433.4,229.9 434.2,228.3 435.1,228.0 436.0,230.0 437.0,231.7 438.0,231.7 438.2,232.5 437.9,234.3 438.3,235.1 438.1,236.3 438.3,238.2 438.3,239.2 438.1,239.7 438.4,242.1 438.1,242.2 438.6,243.6 438.5,244.8 438.5,247.0 438.4,248.2 438.3,248.4 438.4,250.4 438.7,251.9 438.8,252.2 438.7,253.4 438.7,255.0 438.9,255.8 439.0,258.0 438.9,258.1 439.0,260.1 438.9,261.3 439.0,262.6 438.7,263.2 438.8,265.1 438.7,266.1 438.7,267.8 439.1,269.1 438.8,269.9 438.9,271.4 438.9,272.4 439.1,274.3 438.9,274.8 439.3,276.5 439.0,277.9 439.1,278.6 439.2,280.0 439.2,279.2 439.7,277.7 439.4,276.7 439.6,274.3 439.9,274.1 440.0,272.5 440.2,271.1 440.3,270.0 440.8,269.0 441.1,267.8 441.4,266.9 441.5,265.1 442.0,263.3 443.1,265.0 444.2,265.0 445.5,265.5 446.7,266.7 447.4,266.8 447.8,268.7 448.3,270.0 448.4,270.7 448.7,272.1 449.0,272.8 449.3,275.8 449.5,276.9 449.9,277.9 449.8,279.0 450.1,279.2 450.2,279.9 450.7,282.8 450.8,283.3 451.1,281.8 451.3,281.3 451.3,280.2 451.6,277.8 451.6,276.9 451.7,275.8 451.7,275.6 452.1,273.7 452.4,272.5 452.5,271.1 452.5,270.0 453.8,270.1 455.0,268.3 455.0,268.9 455.5,270.5 455.3,271.3 455.8,273.7 455.7,274.0 455.9,276.1 456.1,277.4 456.0,277.9 456.4,278.8 456.3,280.3 456.6,282.8 456.7,283.3 457.1,282.2 457.4,280.9 457.5,278.9 457.8,277.1 458.3,276.7 458.7,277.6 459.3,278.3 459.9,281.9 460.4,281.4 460.8,283.3 461.1,281.2 461.6,280.3 462.1,280.0 462.5,278.3 462.5,280.0 462.8,281.7 462.9,282.8 463.2,284.1 463.6,285.4 463.6,286.4 463.8,286.5 464.0,289.4 464.3,290.2 464.4,291.5 464.7,292.5 465.0,290.3 465.6,291.3 466.1,289.2 466.4,286.8 467.1,284.9 467.5,285.0 468.2,282.7 468.6,282.0 469.1,280.0 469.5,279.0 470.0,278.3 471.2,279.3 472.5,280.0 473.1,280.5 473.5,281.8 473.9,284.4 474.4,283.9 475.0,286.0 475.8,286.7 476.7,288.3 476.8,289.7 476.6,291.2 477.1,292.2 476.8,292.8 476.9,294.3 477.2,295.6 477.0,296.3 477.1,298.0 477.3,298.9 477.2,300.0 477.5,301.7 477.7,300.2 477.9,300.0 478.0,297.1 478.4,297.2 478.8,296.1 478.6,294.9 479.0,293.8 479.2,291.7 481.3,292.5 481.3,293.4 481.4,295.6 481.5,295.7 481.7,298.3 481.7,299.3 481.9,300.2 482.1,301.1 482.0,302.6 482.3,304.8 482.2,304.9 482.5,306.7 482.6,308.2 482.6,308.6 482.7,310.9 482.7,311.5 482.9,313.2 483.0,313.9 483.0,316.2 482.9,317.4 482.9,318.7 483.2,319.1 483.0,321.3 483.0,321.6 483.3,323.3 483.3,322.0 483.7,320.3 483.9,319.7 483.9,318.1 484.2,316.3 484.1,315.4 484.5,314.6 484.7,313.3 484.4,312.2 484.6,311.3 484.8,310.4 485.0,308.3 485.7,308.6 486.1,310.0 486.7,311.7 487.0,312.7 487.0,313.5 487.4,315.0 487.5,316.0 487.6,317.7 487.9,319.5 487.8,320.1 488.3,321.4 488.3,323.3 488.3,324.0 488.6,325.8 488.5,327.6 488.7,327.8 488.9,329.5 489.2,330.5 489.4,332.1 489.2,333.8 489.4,335.0 489.8,334.8 489.7,336.7 489.8,334.7 490.1,333.8 490.6,333.9 490.7,331.5 491.1,331.1 491.2,329.5 491.3,327.2 491.7,326.7 492.3,326.0 492.9,325.3 493.3,323.3 493.5,323.1 494.1,319.9 494.1,319.7 494.5,318.7 494.8,316.5 495.2,315.9 495.6,313.6 495.8,313.3 496.1,312.4 496.6,311.3 496.9,308.6 497.3,309.0 497.5,307.7 498.0,307.3 498.3,305.0 498.8,305.3 499.4,308.7 500.0,308.3 500.4,309.3 500.4,311.5 500.7,312.4 501.1,313.4 501.1,313.6 501.4,314.9 501.7,316.7 502.1,316.8 502.7,319.1 503.2,319.5 503.7,323.2 504.2,323.3 504.5,321.8 504.5,320.8 504.7,319.7 505.0,318.9 505.5,317.1 505.7,316.7 505.8,315.0 506.4,316.6 507.1,317.8 507.5,318.3 508.0,318.8 508.3,320.3 508.8,322.9 509.2,323.3 509.7,325.3 509.7,326.0 510.2,326.0 510.4,328.8 510.6,328.6 511.1,330.1 511.3,331.0 511.7,333.3 512.4,333.6 512.9,337.2 513.7,336.7 514.1,337.2 514.1,340.2 514.5,340.1 514.7,341.3 514.9,342.9 515.1,343.3 515.4,344.8 515.8,346.7 516.1,345.7 516.3,343.8 516.4,343.4 516.5,341.7 516.9,341.3 516.9,338.4 517.2,338.3 517.5,336.7 517.9,335.9 518.6,334.8 519.0,331.6 519.6,330.5 520.0,330.0 520.9,332.2 521.7,331.7 522.0,332.3 522.5,334.6 522.8,334.6 523.3,336.7 523.4,335.7 523.7,334.6 524.0,332.6 524.4,332.0 524.6,329.8 524.7,328.9 525.0,328.3 525.4,327.5 525.9,326.2 526.0,324.0 526.3,323.9 526.7,321.5 527.3,321.8 527.5,320.0 528.2,319.6 528.6,318.7 529.2,316.7 530.5,316.6 531.7,318.3 532.3,315.7 532.6,314.4 533.3,314.2 533.6,315.5 534.3,317.8 534.5,317.9 535.0,319.2 536.3,316.3 537.5,316.7 537.9,315.5 538.4,314.8 538.6,313.7 539.2,311.7 539.7,309.3 540.2,309.4 540.8,308.3 541.0,307.5 541.5,305.5 541.9,305.3 542.1,303.4 542.5,302.5 542.9,304.6 542.8,305.4 543.3,306.4 543.3,307.3 543.9,310.0 543.9,309.7 544.2,311.7 544.5,313.2 545.1,313.1 545.4,316.1 545.8,316.7 546.6,314.1 547.5,315.0 548.0,315.4 548.1,316.7 548.4,319.6 548.7,319.5 549.2,321.7 550.0,319.3 550.8,320.7 551.7,318.3 552.6,316.0 553.3,315.8 554.2,315.0 554.5,315.3 554.9,318.7 555.5,318.2 555.8,320.0 556.3,318.8 556.7,320.8 556.9,321.2 556.9,322.7 557.3,323.7 557.3,325.5 557.8,325.7 558.0,326.8 558.1,328.8 558.2,327.2 558.5,325.8 558.6,326.0 558.9,324.5 559.3,321.9 559.4,321.3 559.9,322.0 560.8,323.5 561.3,325.0 563.1,326.3 563.5,328.5 563.9,328.1 564.2,330.7 564.4,331.9 564.7,334.3 565.3,335.5 565.5,335.5 565.9,337.1 566.3,338.8 566.4,337.3 566.9,335.7 567.1,334.8 567.4,334.5 567.5,332.5 568.5,330.3 569.4,330.0 570.4,332.4 571.3,332.5 572.0,334.4 572.5,335.7 573.1,336.3 573.8,336.9 575.3,338.1 576.9,336.6 577.2,338.6 577.6,339.0 578.1,340.0 578.2,342.0 578.5,343.0 578.7,344.8 578.5,346.2 578.9,347.6 578.9,348.6 579.1,349.0 579.0,351.0 579.1,349.7 579.5,348.1 579.7,347.5 579.6,345.2 579.7,343.9 580.0,343.0 579.9,344.0 580.1,345.9 580.1,346.0 580.3,348.3 580.5,349.1 580.9,350.8 580.8,351.3 580.9,353.4 581.0,354.0 581.2,353.4 581.4,351.3 581.2,350.4 581.6,349.2 581.5,347.9 581.8,346.5 581.6,345.7 581.8,344.0 582.0,343.0 582.1,344.8 582.3,344.9 582.2,346.0 582.3,347.7 582.1,348.9 582.5,350.2 582.3,351.8 582.5,352.2 582.3,354.2 582.5,355.0 582.8,354.2 582.5,352.4 582.8,351.5 582.6,349.5 582.8,348.4 582.8,347.0 582.9,346.1 583.1,344.4 582.9,344.2 582.8,342.7 583.0,341.0 583.0,340.2 583.2,338.7 583.3,336.9 582.8,335.4 583.3,334.4 583.1,333.1 584.0,333.3 584.7,330.6 585.4,329.3 585.7,328.1 586.3,326.6" fill="none" stroke="#161262" stroke-width="2.4" stroke-linejoin="round" stroke-linecap="round"/>
<ellipse cx="396" cy="403" rx="9" ry="13" fill="#000" fill-opacity="0.05"/>
<rect x="0" y="384" width="586" height="5" fill="#f9f9f9"/>
<g font-family="Liberation Sans" font-size="7.8" fill="#333" stroke="#333" stroke-width="0.28">
<text transform="translate(10.70,424.2) rotate(-90) scale(0.8,1)" textLength="41.9" lengthAdjust="spacing">20130121</text>
<text transform="translate(19.90,424.2) rotate(-90) scale(0.8,1)" textLength="41.9" lengthAdjust="spacing">20130328</text>
<text transform="translate(29.09,424.2) rotate(-90) scale(0.8,1)" textLength="41.9" lengthAdjust="spacing">20130604</text>
<text transform="translate(38.29,424.2) rotate(-90) scale(0.8,1)" textLength="41.9" lengthAdjust="spacing">20130807</text>
<text transform="translate(47.49,424.2) rotate(-90) scale(0.8,1)" textLength="41.9" lengthAdjust="spacing">20131016</text>
<text transform="translate(56.68,424.2) rotate(-90) scale(0.8,1)" textLength="41.9" lengthAdjust="spacing">20131216</text>
<text transform="translate(65.88,424.2) rotate(-90) scale(0.8,1)" textLength="41.9" lengthAdjust="spacing">20140221</text>
<text transform="translate(75.08,424.2) rotate(-90) scale(0.8,1)" textLength="41.9" lengthAdjust="spacing">20140424</text>
<text transform="translate(84.27,424.2) rotate(-90) scale(0.8,1)" textLength="41.9" lengthAdjust="spacing">20140627</text>
<text transform="translate(93.47,424.2) rotate(-90) scale(0.8,1)" textLength="41.9" lengthAdjust="spacing">20140827</text>
<text transform="translate(102.67,424.2) rotate(-90) scale(0.8,1)" textLength="41.9" lengthAdjust="spacing">20141104</text>
<text transform="translate(111.87,424.2) rotate(-90) scale(0.8,1)" textLength="41.9" lengthAdjust="spacing">20150106</text>
<text transform="translate(121.06,424.2) rotate(-90) scale(0.8,1)" textLength="41.9" lengthAdjust="spacing">20150313</text>
<text transform="translate(130.26,424.2) rotate(-90) scale(0.8,1)" textLength="41.9" lengthAdjust="spacing">20150515</text>
<text transform="translate(139.46,424.2) rotate(-90) scale(0.8,1)" textLength="41.9" lengthAdjust="spacing">20150716</text>
<text transform="translate(148.65,424.2) rotate(-90) scale(0.8,1)" textLength="41.9" lengthAdjust="spacing">20150917</text>
<text transform="translate(157.85,424.2) rotate(-90) scale(0.8,1)" textLength="41.9" lengthAdjust="spacing">20151124</text>
<text transform="translate(167.05,424.2) rotate(-90) scale(0.8,1)" textLength="41.9" lengthAdjust="spacing">20160125</text>
<text transform="translate(176.24,424.2) rotate(-90) scale(0.8,1)" textLength="41.9" lengthAdjust="spacing">20160331</text>
<text transform="translate(185.44,424.2) rotate(-90) scale(0.8,1)" textLength="41.9" lengthAdjust="spacing">20160602</text>
<text transform="translate(194.64,424.2) rotate(-90) scale(0.8,1)" textLength="41.9" lengthAdjust="spacing">20160804</text>
<text transform="translate(203.83,424.2) rotate(-90) scale(0.8,1)" textLength="41.9" lengthAdjust="spacing">20161013</text>
<text transform="translate(213.03,424.2) rotate(-90) scale(0.8,1)" textLength="41.9" lengthAdjust="spacing">20161213</text>
<text transform="translate(222.23,424.2) rotate(-90) scale(0.8,1)" textLength="41.9" lengthAdjust="spacing">20170220</text>
<text transform="translate(231.42,424.2) rotate(-90) scale(0.8,1)" textLength="41.9" lengthAdjust="spacing">20170424</text>
<text transform="translate(240.62,424.2) rotate(-90) scale(0.8,1)" textLength="41.9" lengthAdjust="spacing">20170627</text>
<text transform="translate(249.82,424.2) rotate(-90) scale(0.8,1)" textLength="41.9" lengthAdjust="spacing">20170825</text>
<text transform="translate(259.01,424.2) rotate(-90) scale(0.8,1)" textLength="41.9" lengthAdjust="spacing">20171101</text>
<text transform="translate(268.21,424.2) rotate(-90) scale(0.8,1)" textLength="41.9" lengthAdjust="spacing">20180102</text>
<text transform="translate(277.41,424.2) rotate(-90) scale(0.8,1)" textLength="41.9" lengthAdjust="spacing">20180309</text>
<text transform="translate(286.60,424.2) rotate(-90) scale(0.8,1)" textLength="41.9" lengthAdjust="spacing">20180515</text>
<text transform="translate(295.80,424.2) rotate(-90) scale(0.8,1)" textLength="41.9" lengthAdjust="spacing">20180713</text>
<text transform="translate(305.00,424.2) rotate(-90) scale(0.8,1)" textLength="41.9" lengthAdjust="spacing">20180912</text>
<text transform="translate(314.20,424.2) rotate(-90) scale(0.8,1)" textLength="41.9" lengthAdjust="spacing">20181120</text>
<text transform="translate(323.39,424.2) rotate(-90) scale(0.8,1)" textLength="41.9" lengthAdjust="spacing">20190122</text>
<text transform="translate(332.59,424.2) rotate(-90) scale(0.8,1)" textLength="41.9" lengthAdjust="spacing">20190329</text>
<text transform="translate(341.79,424.2) rotate(-90) scale(0.8,1)" textLength="41.9" lengthAdjust="spacing">20190604</text>
<text transform="translate(350.98,424.2) rotate(-90) scale(0.8,1)" textLength="41.9" lengthAdjust="spacing">20190805</text>
<text transform="translate(360.18,424.2) rotate(-90) scale(0.8,1)" textLength="41.9" lengthAdjust="spacing">20191011</text>
<text transform="translate(369.38,424.2) rotate(-90) scale(0.8,1)" textLength="41.9" lengthAdjust="spacing">20191211</text>
<text transform="translate(378.57,424.2) rotate(-90) scale(0.8,1)" textLength="41.9" lengthAdjust="spacing">20200219</text>
<text transform="translate(387.77,424.2) rotate(-90) scale(0.8,1)" textLength="41.9" lengthAdjust="spacing">20200421</text>
<text transform="translate(396.97,424.2) rotate(-90) scale(0.8,1)" textLength="41.9" lengthAdjust="spacing">20200624</text>
<text transform="translate(406.16,424.2) rotate(-90) scale(0.8,1)" textLength="41.9" lengthAdjust="spacing">20200826</text>
<text transform="translate(415.36,424.2) rotate(-90) scale(0.8,1)" textLength="41.9" lengthAdjust="spacing">20201103</text>
<text transform="translate(424.56,424.2) rotate(-90) scale(0.8,1)" textLength="41.9" lengthAdjust="spacing">20210104</text>
<text transform="translate(433.75,424.2) rotate(-90) scale(0.8,1)" textLength="41.9" lengthAdjust="spacing">20210311</text>
<text transform="translate(442.95,424.2) rotate(-90) scale(0.8,1)" textLength="41.9" lengthAdjust="spacing">20210517</text>
<text transform="translate(452.15,424.2) rotate(-90) scale(0.8,1)" textLength="41.9" lengthAdjust="spacing">20210716</text>
<text transform="translate(461.34,424.2) rotate(-90) scale(0.8,1)" textLength="41.9" lengthAdjust="spacing">20210915</text>
<text transform="translate(470.54,424.2) rotate(-90) scale(0.8,1)" textLength="41.9" lengthAdjust="spacing">20211124</text>
<text transform="translate(479.74,424.2) rotate(-90) scale(0.8,1)" textLength="41.9" lengthAdjust="spacing">20220125</text>
<text transform="translate(488.93,424.2) rotate(-90) scale(0.8,1)" textLength="41.9" lengthAdjust="spacing">20220401</text>
<text transform="translate(498.13,424.2) rotate(-90) scale(0.8,1)" textLength="41.9" lengthAdjust="spacing">20220609</text>
<text transform="translate(507.33,424.2) rotate(-90) scale(0.8,1)" textLength="41.9" lengthAdjust="spacing">20220809</text>
<text transform="translate(516.53,424.2) rotate(-90) scale(0.8,1)" textLength="41.9" lengthAdjust="spacing">20221017</text>
<text transform="translate(525.72,424.2) rotate(-90) scale(0.8,1)" textLength="41.9" lengthAdjust="spacing">20221215</text>
<text transform="translate(534.92,424.2) rotate(-90) scale(0.8,1)" textLength="41.9" lengthAdjust="spacing">20230222</text>
<text transform="translate(544.12,424.2) rotate(-90) scale(0.8,1)" textLength="41.9" lengthAdjust="spacing">20230426</text>
<text transform="translate(553.31,424.2) rotate(-90) scale(0.8,1)" textLength="41.9" lengthAdjust="spacing">20230630</text>
<text transform="translate(562.51,424.2) rotate(-90) scale(0.8,1)" textLength="41.9" lengthAdjust="spacing">20230830</text>
<text transform="translate(571.71,424.2) rotate(-90) scale(0.8,1)" textLength="41.9" lengthAdjust="spacing">20231107</text>
<text transform="translate(580.90,424.2) rotate(-90) scale(0.8,1)" textLength="41.9" lengthAdjust="spacing">20240108</text>
<text transform="translate(590.10,424.2) rotate(-90) scale(0.8,1)" textLength="41.9" lengthAdjust="spacing">20240315</text>
</g>
</svg>
<div class="box" style="left:451px;top:10px;width:139px;height:30px;"><span style="position:absolute;left:6px;top:6px;font-size:17.5px;line-height:20px;letter-spacing:0.6px;">TG: MYYJJPP</span></div>
<div class="box" style="left:10px;top:440px;width:163px;height:30px;"><span style="position:absolute;left:5.5px;top:4.4px;font-size:18px;line-height:20px;letter-spacing:0.85px;">www.zbxsdp.com</span></div>
</body></html>
